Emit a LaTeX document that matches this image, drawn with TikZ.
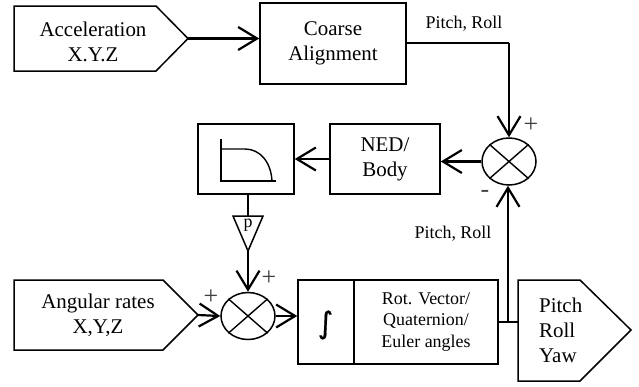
\documentclass[tikz,border=0pt]{standalone}
\usepackage{fontspec}
\setmainfont{Liberation Serif}
\usetikzlibrary{arrows.meta,shapes.geometric}
\newcommand{\bigtxt}{\fontsize{21}{25}\selectfont}
\newcommand{\midtxt}{\fontsize{18}{21.5}\selectfont}
\tikzset{
  x=1bp,y=-1bp,
  blockbox/.style={draw,line width=1.5bp,inner sep=0pt,align=center,font=\bigtxt},
  outline/.style={draw,line width=1.5bp,line join=miter},
  txt/.style={inner sep=0pt,align=center,font=\bigtxt},
  smalltxt/.style={inner sep=0pt,align=center,font=\midtxt},
  signtxt/.style={inner sep=0pt,font=\fontsize{26}{26}\selectfont,text=black!75},
  summer/.style={draw,ellipse,line width=1.5bp,inner sep=0pt,minimum width=54bp,minimum height=47bp},
  conn/.style={line width=2.2bp,-{Straight Barb[length=19bp,width=23bp,line width=2.2bp]}},
  wire/.style={line width=1.8bp},
}
\begin{document}
\begin{tikzpicture}
\useasboundingbox (0,0) rectangle (639,386);
% pentagons
\coordinate (acctip) at (188,38.5);
\draw[outline] (14,6) -- (156,6) -- (acctip) -- (156,71) -- (14,71) -- cycle;
\node[txt] (acc) at (93,41.5) {Acceleration\\X.Y.Z};
\coordinate (angtip) at (198,315);
\draw[outline] (14,280) -- (163,280) -- (angtip) -- (163,350) -- (14,350) -- cycle;
\node[txt] (ang) at (98,315) {Angular rates\\X,Y,Z};
\coordinate (outin) at (518,322);
\draw[outline] (518,280) -- (580,280) -- (631,330) -- (580,381) -- (518,381) -- cycle;
\node[txt,align=left,anchor=west] (out) at (539,330.5) {Pitch\\Roll\\Yaw};
% blocks
\node[blockbox,minimum width=146bp,minimum height=81bp] (coarse) at (333,43.5) {Coarse\\Alignment};
\node[blockbox,minimum width=110bp,minimum height=70bp] (ned) at (385,159) {NED/\\Body};
\node[blockbox,minimum width=96bp,minimum height=70bp] (filt) at (246,159) {};
\node[blockbox,minimum width=56bp,minimum height=84bp] (intg) at (326,322) {};
\node[inner sep=0pt] (intsym) at (325.5,325) {\fontspec{DejaVu Sans}[FakeBold=0.6]\fontsize{30}{30}\selectfont ∫};
\node[blockbox,minimum width=144bp,minimum height=84bp,font=\midtxt] (rot) at (426,322) {Rot. Vector/\\Quaternion/\\Euler angles};
% filter icon
\draw[line width=1.4bp] (221,139) -- (221,181) -- (276,181);
\draw[line width=1.4bp] (221,149) -- (245,149) .. controls (260,149) and (271,162) .. (272,181);
% gain
\coordinate (gtl) at (233,216);
\coordinate (gtr) at (263,216);
\coordinate (gtip) at (248,251);
\draw[outline] (gtl) -- (gtr) -- (gtip) -- cycle;
\node[smalltxt] (gain) at (248,225) {p};
\coordinate (gtop) at (248,216);
% summers
\node[summer] (s1) at (509,161.5) {};
\draw[line width=1.4bp] (s1.north west) -- (s1.south east) (s1.north east) -- (s1.south west);
\node[summer] (s2) at (248,316) {};
\draw[line width=1.4bp] (s2.north west) -- (s2.south east) (s2.north east) -- (s2.south west);
% connectors
\draw[conn] (acctip) -- (coarse.west |- acctip);
\coordinate (c1) at (coarse.east |- 0,43);
\draw[wire] (c1) -- (509,43);
\draw[conn] (509,43) -- (s1.north);
\draw[conn] (s1.west) -- (ned.east |- s1.west);
\draw[conn] (ned.west) -- (filt.east);
\draw[wire] (gtop |- filt.south) -- (gtop);
\draw[conn] (gtip) -- (s2.north);
\draw[conn] (angtip) -- (s2.west);
\draw[conn] (s2.east) -- (intg.west |- s2.east);
\draw[wire] (rot.east) -- (outin);
\coordinate (branch) at (508,322);
\draw[conn] (branch) -- (s1.south -| branch);
% labels
\node[smalltxt] (pr1) at (464,24) {Pitch, Roll};
\node[smalltxt] (pr2) at (453,233.5) {Pitch, Roll};
\node[signtxt] (p1) at (531,125) {+};
\node[signtxt] (m1) at (485,194) {-};
\node[signtxt] (p2) at (269,278) {+};
\node[signtxt] (p3) at (211,297) {+};
\end{tikzpicture}
\end{document}
